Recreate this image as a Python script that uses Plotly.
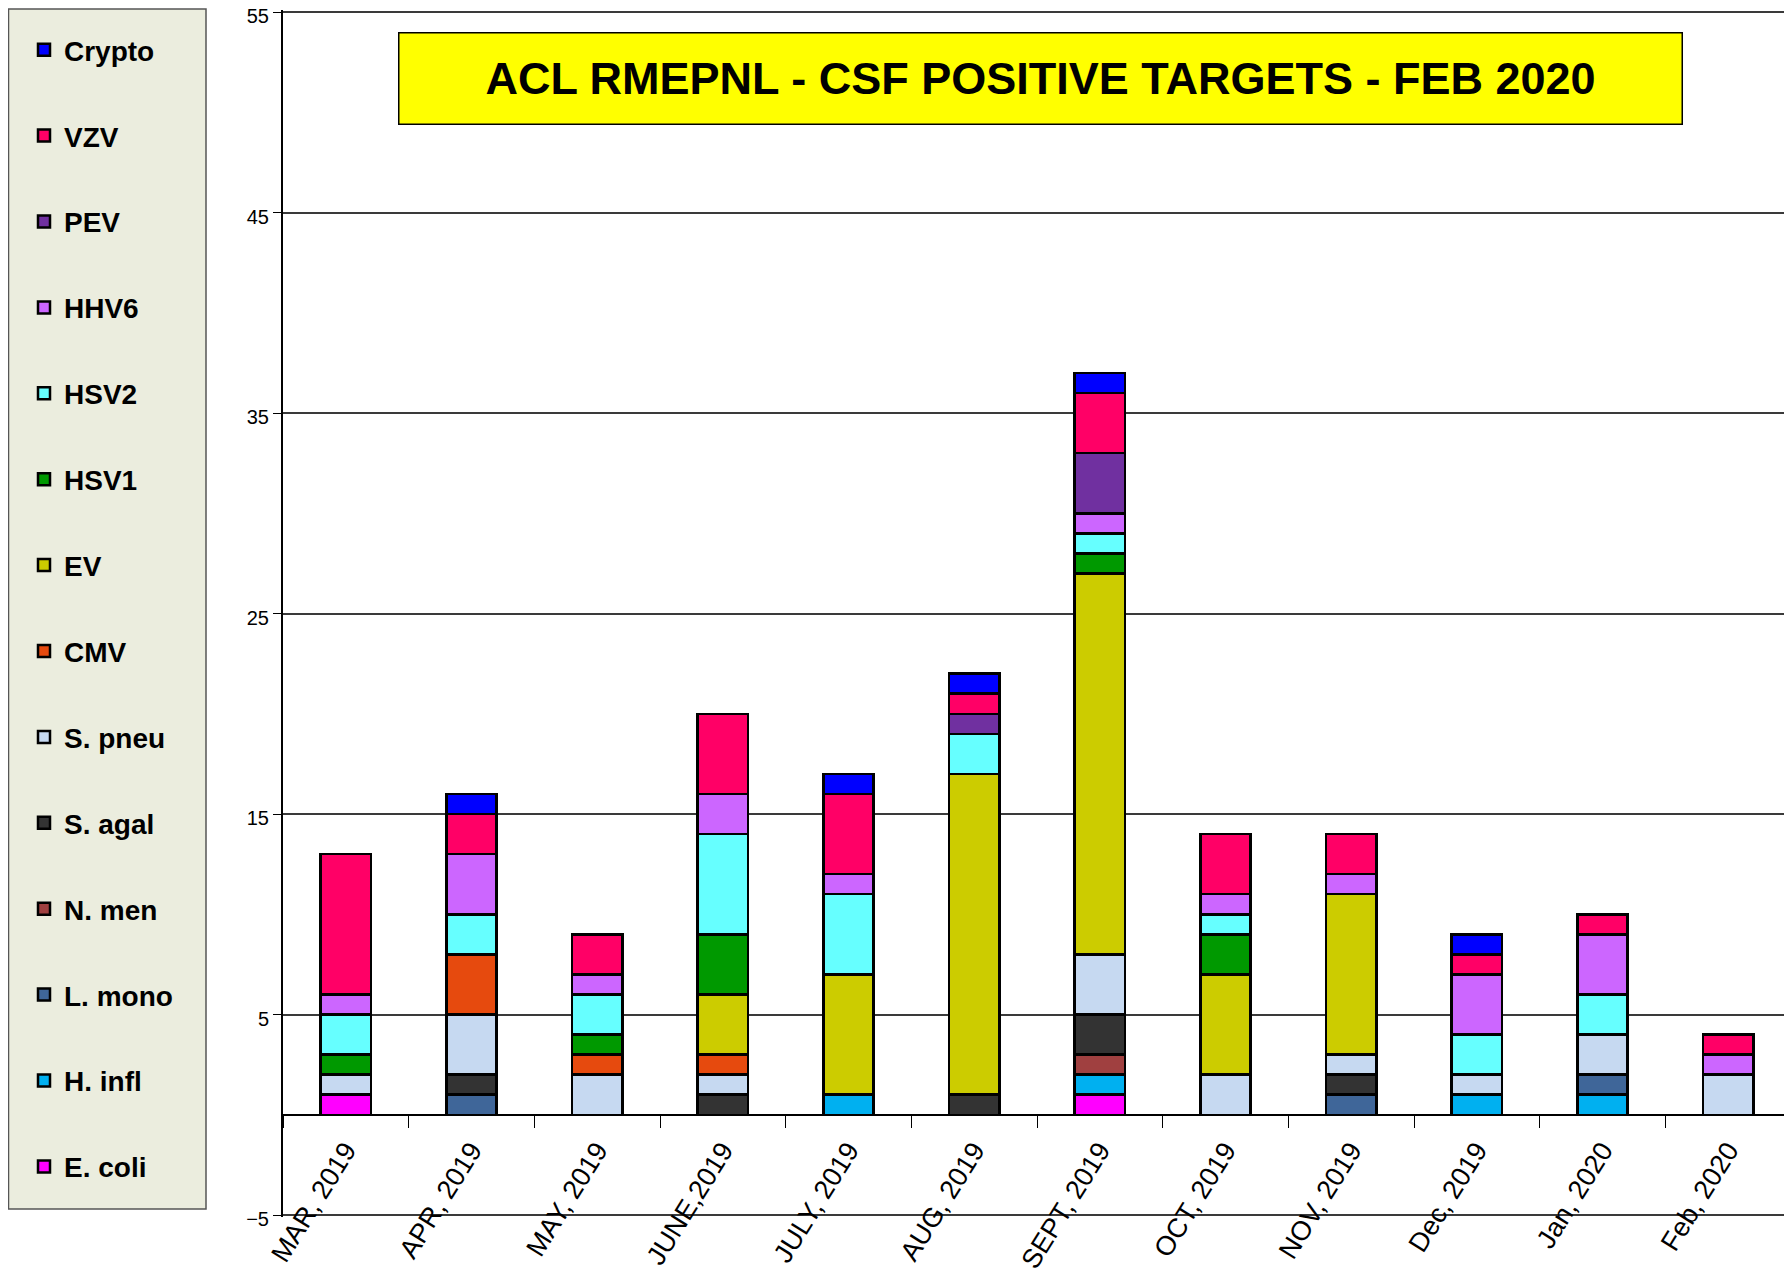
import plotly.graph_objects as go

months = ["MAR, 2019", "APR, 2019", "MAY, 2019", "JUNE,2019", "JULY, 2019", "AUG, 2019",
          "SEPT, 2019", "OCT, 2019", "NOV, 2019", "Dec, 2019", "Jan, 2020", "Feb, 2020"]

# stacked from bottom to top
e_coli  = [1, 0, 0, 0, 0, 0, 1, 0, 0, 0, 0, 0]
h_infl  = [0, 0, 0, 0, 1, 0, 1, 0, 0, 1, 1, 0]
l_mono  = [0, 1, 0, 0, 0, 0, 0, 0, 1, 0, 1, 0]
n_men   = [0, 0, 0, 0, 0, 0, 1, 0, 0, 0, 0, 0]
s_agal  = [0, 1, 0, 1, 0, 1, 2, 0, 1, 0, 0, 0]
s_pneu  = [1, 3, 2, 1, 0, 0, 3, 2, 1, 1, 2, 2]
cmv     = [0, 3, 1, 1, 0, 0, 0, 0, 0, 0, 0, 0]
ev      = [0, 0, 0, 3, 6, 16, 19, 5, 8, 0, 0, 0]
hsv1    = [1, 0, 1, 3, 0, 0, 1, 2, 0, 0, 0, 0]
hsv2    = [2, 2, 2, 5, 4, 2, 1, 1, 0, 2, 2, 0]
hhv6    = [1, 3, 1, 2, 1, 0, 1, 1, 1, 3, 3, 1]
pev     = [0, 0, 0, 0, 0, 1, 3, 0, 0, 0, 0, 0]
vzv     = [7, 2, 2, 4, 4, 1, 3, 3, 2, 1, 1, 1]
crypto  = [0, 1, 0, 0, 1, 1, 1, 0, 0, 1, 0, 0]

series_names = ["E. coli", "H. infl", "L. mono", "N. men", "S. agal", "S. pneu", "CMV",
                "EV", "HSV1", "HSV2", "HHV6", "PEV", "VZV", "Crypto"]
series_values = [e_coli, h_infl, l_mono, n_men, s_agal, s_pneu, cmv,
                 ev, hsv1, hsv2, hhv6, pev, vzv, crypto]
series_colors = ["#FF00FF", "#00B0F0", "#3F6699", "#A04040", "#333333", "#C6D9F1", "#E64A0E",
                 "#CCCC00", "#009900", "#66FFFF", "#CC66FF", "#7030A0", "#FF0066", "#0000FF"]

y_ticks = [-5, 5, 15, 25, 35, 45, 55]
title_text = "ACL RMEPNL - CSF POSITIVE TARGETS - FEB 2020"

SANS = "Liberation Sans, Arial, sans-serif"

fig = go.Figure()
n = len(series_names)
for i, (name, vals, col) in enumerate(zip(series_names, series_values, series_colors)):
    fig.add_trace(go.Bar(
        x=months, y=vals, name=name, legendgroup=name, legendrank=100 + (n - i),
        marker=dict(color=col, line=dict(color="#000000", width=2.5)),
        width=0.4,
    ))

# page body has an 8px margin: work in figure pixels = screen pixels - 8
OFF = 8
W, H = 1792 - OFF, 1274 - OFF
L, R, T, B = 283 - OFF, 1, 10 - OFF, 1274 - 1217
pw, ph = W - L - R, H - T - B

def px_x(x):  # x in screen pixels
    return (x - OFF - L) / pw

def px_y(y):  # y in screen pixels
    return (H - B - (y - OFF)) / ph

fig.update_layout(
    width=W, height=H,
    margin=dict(l=L, r=R, t=T, b=B, pad=0, autoexpand=False),
    barmode="stack",
    plot_bgcolor="#FFFFFF",
    paper_bgcolor="#FFFFFF",
    showlegend=True,
    legend=dict(
        traceorder="grouped",
        tracegroupgap=46.5,
        x=px_x(24), y=px_y(25), xanchor="left", yanchor="top",
        bgcolor="rgba(0,0,0,0)", borderwidth=0,
        font=dict(family=SANS, size=28, color="#000000", weight="bold"),
    ),
    xaxis=dict(
        type="category", automargin=False,
        anchor="free", position=5.1 / 60.2,
        showline=True, linecolor="#000000", linewidth=2,
        ticks="outside", ticklen=12, tickcolor="#000000", tickwidth=1,
        tickson="boundaries",
        tickangle=-58,
        ticklabelstandoff=8,
        tickfont=dict(family=SANS, size=27, color="#000000"),
        showgrid=False,
        range=[-0.5, 11.5],
    ),
    yaxis=dict(
        range=[-5.1, 55.1], automargin=False,
        tickvals=y_ticks,
        ticklabeloverflow="allow",
        ticklabelshift=4,
        showgrid=True, gridcolor="#3A3A3A", gridwidth=1.5,
        zeroline=False,
        showline=True, linecolor="#000000", linewidth=2,
        ticks="outside", ticklen=8, tickcolor="#000000",
        tickfont=dict(family=SANS, size=20, color="#000000"),
    ),
    shapes=[
        dict(type="rect", xref="paper", yref="paper",
             x0=px_x(8.5), x1=px_x(206), y0=px_y(1209), y1=px_y(9),
             fillcolor="#EBEDDE", line=dict(color="#555555", width=1.5), layer="below"),
    ],
    annotations=[
        dict(text=title_text, xref="paper", yref="paper",
             x=px_x(1040), y=px_y(78), xanchor="center", yanchor="middle",
             showarrow=False, width=1280, height=88,
             bgcolor="#FFFF00", bordercolor="#000000", borderwidth=1.5, borderpad=1,
             font=dict(family=SANS, size=45, color="#000000", weight="bold")),
    ],
)

fig.write_html("out.html")
